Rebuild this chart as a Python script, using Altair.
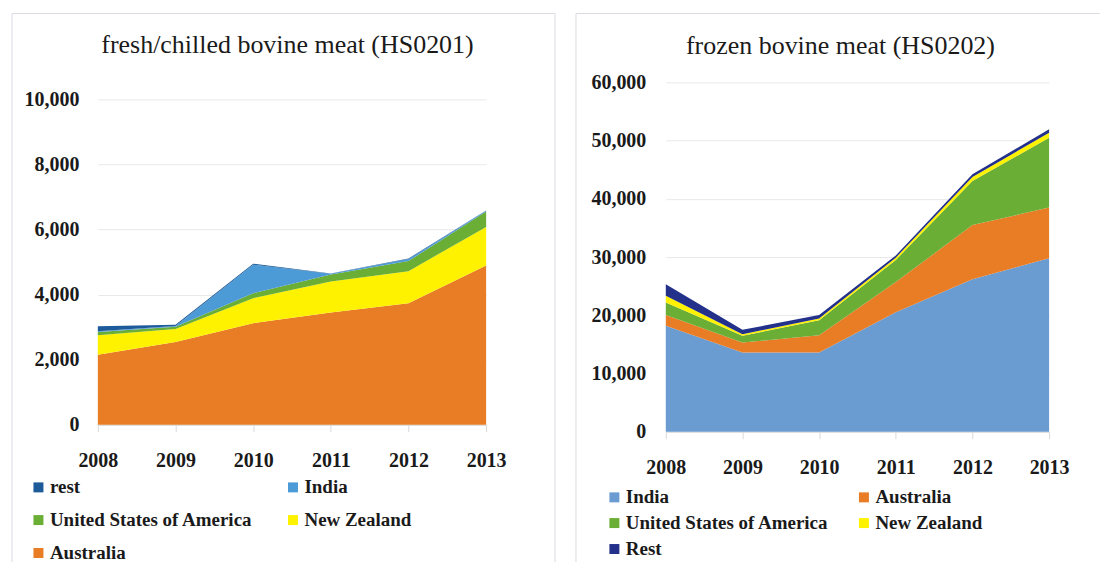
import altair as alt
import pandas as pd

years = [2008, 2009, 2010, 2011, 2012, 2013]

# ---- fresh/chilled bovine meat (HS0201) ----
fresh_title = "fresh/chilled bovine meat (HS0201)"
fresh_legend_order = ["rest", "India", "United States of America", "New Zealand", "Australia"]
fresh_colors = ["#1d5a99", "#4c9bd6", "#6aae35", "#fff200", "#e87d26"]
fresh_australia = [2150, 2540, 3120, 3450, 3730, 4890]
fresh_new_zealand = [600, 400, 770, 950, 990, 1190]
fresh_usa = [100, 70, 150, 220, 310, 475]
fresh_india = [20, 25, 880, 20, 60, 20]
fresh_rest = [160, 40, 30, 10, 20, 10]
fresh_ticks = [0, 2000, 4000, 6000, 8000, 10000]

# ---- frozen bovine meat (HS0202) ----
frozen_title = "frozen bovine meat (HS0202)"
frozen_legend_order = ["India", "Australia", "United States of America", "New Zealand", "Rest"]
frozen_colors = ["#6a9bd1", "#e87d26", "#6aae35", "#fff200", "#23318a"]
frozen_india = [18200, 13600, 13600, 20500, 26200, 29800]
frozen_australia = [1830, 1720, 2980, 5200, 9300, 8700]
frozen_usa = [2170, 1150, 2570, 3800, 7550, 12000]
frozen_new_zealand = [1150, 280, 280, 400, 690, 860]
frozen_rest = [2000, 750, 640, 350, 460, 580]
frozen_ticks = [0, 10000, 20000, 30000, 40000, 50000, 60000]

SERIF = "Liberation Serif, Times New Roman, Tinos, serif"
TXT = "#1a1a1a"
BORDER = "#d9dce3"


def long_frame(stack_bottom_to_top):
    rows = []
    for k, (name, vals) in enumerate(stack_bottom_to_top):
        for yr, v in zip(years, vals):
            rows.append({"year": yr, "country": name, "value": v, "ord": k})
    return pd.DataFrame(rows)


fresh_df = long_frame([
    ("Australia", fresh_australia),
    ("New Zealand", fresh_new_zealand),
    ("United States of America", fresh_usa),
    ("India", fresh_india),
    ("rest", fresh_rest),
])
frozen_df = long_frame([
    ("India", frozen_india),
    ("Australia", frozen_australia),
    ("United States of America", frozen_usa),
    ("New Zealand", frozen_new_zealand),
    ("Rest", frozen_rest),
])


def panel(df, title, order, colors, ticks, ymax, width, height,
          label_pad_y, title_x, title_y, legend_x, legend_y, row_pad, col_pad,
          border_left, border_right, border_top, border_bottom, right_rule=True):
    area = alt.Chart(df).mark_area(opacity=1, interpolate="linear").encode(
        x=alt.X("year:Q",
                scale=alt.Scale(domain=[years[0], years[-1]], nice=False, zero=False),
                axis=alt.Axis(values=years, format="d", title=None, grid=False,
                              labelFont=SERIF, labelFontSize=20, labelFontWeight="bold",
                              labelColor=TXT, labelFlush=False, labelOverlap=False,
                              labelPadding=19, ticks=True, tickColor="#d9d9d9",
                              tickSize=7, domain=True, domainColor="#d9d9d9")),
        y=alt.Y("value:Q", stack="zero",
                scale=alt.Scale(domain=[0, ymax], nice=False, zero=True),
                axis=alt.Axis(values=ticks, format=",d", title=None, grid=True,
                              gridColor="#e9e9e9", gridWidth=1, ticks=False,
                              domain=False, labelFont=SERIF, labelFontSize=20,
                              labelFontWeight="bold", labelColor=TXT,
                              labelPadding=label_pad_y)),
        color=alt.Color("country:N",
                        scale=alt.Scale(domain=order, range=colors),
                        legend=alt.Legend(orient="none", legendX=legend_x, legendY=legend_y,
                                          direction="horizontal",
                                          columns=2, columnPadding=col_pad, rowPadding=row_pad,
                                          symbolType="square", symbolSize=100,
                                          symbolStrokeWidth=0, symbolOpacity=1,
                                          labelFont=SERIF, labelFontSize=19,
                                          labelFontWeight="bold", labelColor=TXT,
                                          labelOffset=2, labelLimit=0, title=None,
                                          padding=0)),
        order=alt.Order("ord:Q", sort="ascending"),
    )
    ttl = alt.Chart(pd.DataFrame({"t": [title]})).mark_text(
        font=SERIF, fontSize=26, align="center", baseline="alphabetic", color=TXT
    ).encode(text="t:N", x=alt.value(title_x), y=alt.value(title_y))

    rule_df = pd.DataFrame({"k": [0]})
    top_rule = alt.Chart(rule_df).mark_rule(color=BORDER, strokeWidth=1).encode(
        x=alt.value(border_left), x2=alt.value(border_right),
        y=alt.value(border_top), y2=alt.value(border_top))
    left_rule = alt.Chart(rule_df).mark_rule(color=BORDER, strokeWidth=1).encode(
        x=alt.value(border_left), x2=alt.value(border_left),
        y=alt.value(border_top), y2=alt.value(border_bottom))
    layers = [top_rule, left_rule, area, ttl]
    if right_rule:
        layers.insert(2, alt.Chart(rule_df).mark_rule(color=BORDER, strokeWidth=1).encode(
            x=alt.value(border_right), x2=alt.value(border_right),
            y=alt.value(border_top), y2=alt.value(border_bottom)))
    return alt.layer(*layers).properties(width=width, height=height)


left = panel(fresh_df, fresh_title, fresh_legend_order, fresh_colors, fresh_ticks,
             ymax=10521, width=389, height=343, label_pad_y=19,
             title_x=190, title_y=-29, legend_x=-69, legend_y=396, row_pad=13,
             col_pad=30, border_left=-86, border_right=458, border_top=-69,
             border_bottom=485)
right = panel(frozen_df, frozen_title, frozen_legend_order, frozen_colors, frozen_ticks,
              ymax=60000, width=384, height=350, label_pad_y=20,
              title_x=175, title_y=-28, legend_x=-61, legend_y=406, row_pad=6,
              col_pad=25, border_left=-90, border_right=435, border_top=-69,
              border_bottom=485, right_rule=False)

chart = alt.hconcat(left, right, spacing=19).resolve_scale(
    color="independent", x="independent", y="independent"
).properties(
    padding={"left": 3, "top": 4, "right": 0, "bottom": 0},
    background="white",
).configure_view(stroke=None)

chart.save("out.html", embed_options={"renderer": "svg", "actions": False})
